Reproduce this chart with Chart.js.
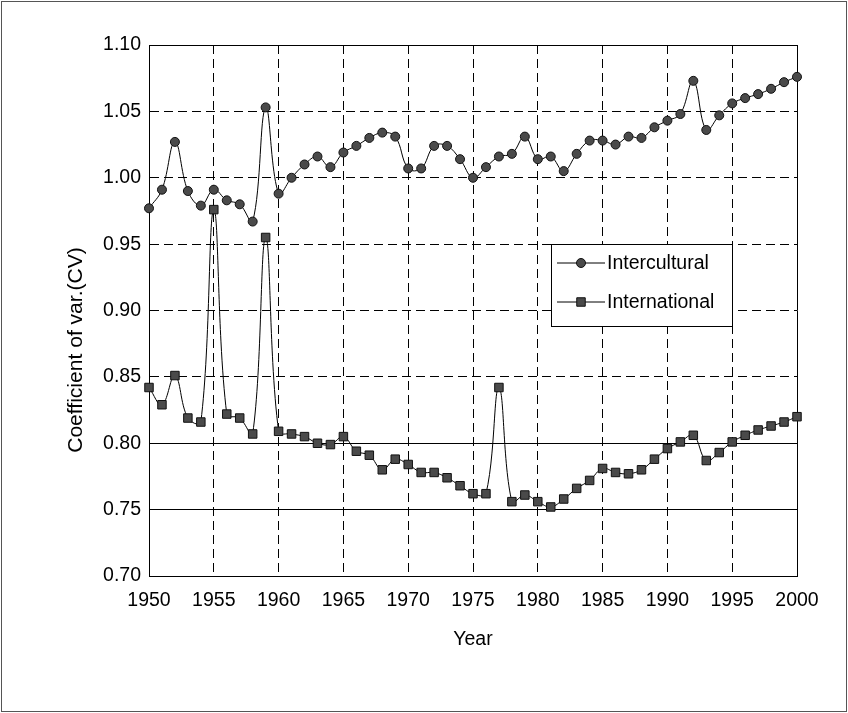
<!DOCTYPE html>
<html>
<head>
<meta charset="utf-8">
<title>Coefficient of variation</title>
<script src="https://cdn.jsdelivr.net/npm/chart.js@4.4.0/dist/chart.umd.min.js"></script>
<style>
    html, body { margin: 0; padding: 0; background: #fff; }
    #wrap { position: relative; width: 848px; height: 713px; }
</style>
</head>
<body>
<div id="wrap"><canvas id="chart"></canvas></div>
<script>
(function() {
    'use strict';

    // Years on the x axis
    var years = [
        1950, 1951, 1952, 1953, 1954, 1955, 1956, 1957, 1958, 1959,
        1960, 1961, 1962, 1963, 1964, 1965, 1966, 1967, 1968, 1969,
        1970, 1971, 1972, 1973, 1974, 1975, 1976, 1977, 1978, 1979,
        1980, 1981, 1982, 1983, 1984, 1985, 1986, 1987, 1988, 1989,
        1990, 1991, 1992, 1993, 1994, 1995, 1996, 1997, 1998, 1999,
        2000
    ];

    // Intercultural CV (circles)
    var intercultural = [
        0.977, 0.991, 1.027, 0.990, 0.979, 0.991, 0.983, 0.980, 0.967, 1.053,
        0.988, 1.000, 1.010, 1.016, 1.008, 1.019, 1.024, 1.030, 1.034, 1.031,
        1.007, 1.007, 1.024, 1.024, 1.014, 1.000, 1.008, 1.016, 1.018, 1.031,
        1.014, 1.016, 1.005, 1.018, 1.028, 1.028, 1.025, 1.031, 1.030, 1.038,
        1.043, 1.048, 1.073, 1.036, 1.047, 1.056, 1.060, 1.063, 1.067, 1.072,
        1.076
    ];

    // International CV (squares)
    var international = [
        0.842, 0.829, 0.851, 0.819, 0.816, 0.976, 0.822, 0.819, 0.807, 0.955,
        0.809, 0.807, 0.805, 0.800, 0.799, 0.805, 0.794, 0.791, 0.780, 0.788,
        0.784, 0.778, 0.778, 0.774, 0.768, 0.762, 0.762, 0.842, 0.756, 0.761,
        0.756, 0.752, 0.758, 0.766, 0.772, 0.781, 0.778, 0.777, 0.780, 0.788,
        0.796, 0.801, 0.806, 0.787, 0.793, 0.801, 0.806, 0.810, 0.813, 0.816,
        0.820
    ];

    var seriesNames = ['Intercultural', 'International'];
    var yTitle = 'Coefficient of var.(CV)';
    var xTitle = 'Year';

    // Axis settings
    var xTicks = { min: 1950, max: 2000, step: 5 };
    var yTicks = { min: 0.70, max: 1.10, step: 0.05 };
    var solidYLines = [0.70, 0.75, 0.80, 1.10];
    var solidXLines = [1950, 2000];

    var FONT = '"Liberation Sans", Arial, Helvetica, sans-serif';
    var FONT_SIZE = 19.5;

    function toPoints(values) {
        return values.map(function(v, i) {
            return { x: years[i], y: v };
        });
    }

    function isOneOf(value, list) {
        return list.some(function(v) { return Math.abs(v - value) < 1e-6; });
    }

    // Dashed grid, except where the figure has solid lines
    function gridDash(list) {
        return function(ctx) {
            if (!ctx.tick) {
                return [];
            }
            return isOneOf(ctx.tick.value, list) ? [] : [9, 5];
        };
    }

    // Outer frame of the figure
    var framePlugin = {
        id: 'frame',
        afterDraw: function(chart) {
            var ctx = chart.ctx;
            ctx.save();
            ctx.strokeStyle = '#555';
            ctx.lineWidth = 1;
            ctx.strokeRect(1.5, 1.5, chart.width - 3, chart.height - 3);
            ctx.restore();
        }
    };

    // Rotated y title, sitting a bit below the middle like in the figure
    var yTitlePlugin = {
        id: 'yTitle',
        afterDraw: function(chart) {
            var ctx = chart.ctx;
            ctx.save();
            ctx.translate(77, 350);
            ctx.rotate(-Math.PI / 2);
            ctx.scale(1.08, 1);
            ctx.fillStyle = '#000';
            ctx.font = FONT_SIZE + 'px ' + FONT;
            ctx.textAlign = 'center';
            ctx.textBaseline = 'middle';
            ctx.fillText(yTitle, 0, 0);
            ctx.restore();
        }
    };

    // Boxed legend inside the plot
    var boxLegendPlugin = {
        id: 'boxLegend',
        afterDatasetsDraw: function(chart) {
            var ctx = chart.ctx;
            var box = { x: 551.5, y: 244.5, w: 181, h: 82 };

            ctx.save();
            ctx.fillStyle = '#fff';
            ctx.fillRect(box.x, box.y, box.w, box.h);
            ctx.strokeStyle = '#000';
            ctx.lineWidth = 1;
            ctx.strokeRect(box.x, box.y, box.w, box.h);

            chart.data.datasets.forEach(function(ds, i) {
                var y = 263 + i * 39;

                ctx.beginPath();
                ctx.strokeStyle = '#000';
                ctx.lineWidth = 1;
                ctx.moveTo(557, y);
                ctx.lineTo(605, y);
                ctx.stroke();

                ctx.fillStyle = ds.pointBackgroundColor;
                ctx.strokeStyle = ds.pointBorderColor;
                Chart.helpers.drawPoint(ctx, {
                    pointStyle: ds.pointStyle,
                    radius: ds.pointRadius,
                    borderWidth: ds.pointBorderWidth,
                    rotation: 0
                }, 581, y);

                ctx.fillStyle = '#000';
                ctx.font = FONT_SIZE + 'px ' + FONT;
                ctx.textAlign = 'left';
                ctx.textBaseline = 'middle';
                ctx.fillText(ds.label, 607, y + 1);
            });
            ctx.restore();
        }
    };

    var datasets = [
        {
            label: seriesNames[0],
            data: toPoints(intercultural),
            borderColor: '#000',
            borderWidth: 1,
            tension: 0.4,
            pointStyle: 'circle',
            pointRadius: 4.5,
            pointBackgroundColor: '#4a4a4a',
            pointBorderColor: '#111',
            pointBorderWidth: 1,
            clip: false
        },
        {
            label: seriesNames[1],
            data: toPoints(international),
            borderColor: '#000',
            borderWidth: 1,
            tension: 0.4,
            pointStyle: 'rect',
            pointRadius: 6,
            pointBackgroundColor: '#4a4a4a',
            pointBorderColor: '#111',
            pointBorderWidth: 1,
            clip: false
        }
    ];

    new Chart(document.getElementById('chart'), {
        type: 'line',
        data: { datasets: datasets },
        plugins: [framePlugin, yTitlePlugin, boxLegendPlugin],
        options: {
            responsive: true,
            maintainAspectRatio: false,
            animation: false,
            layout: {
                padding: { top: 45, right: 51, bottom: 37, left: 0 }
            },
            plugins: {
                legend: { display: false },
                tooltip: { enabled: false }
            },
            scales: {
                x: {
                    type: 'linear',
                    min: xTicks.min,
                    max: xTicks.max,
                    afterFit: function(scale) { scale.height = 100; },
                    grid: { color: '#000', lineWidth: 1, drawTicks: false },
                    border: { display: true, color: '#000', width: 1, dash: gridDash(solidXLines) },
                    ticks: {
                        stepSize: xTicks.step,
                        padding: 13,
                        color: '#000',
                        font: { family: FONT, size: FONT_SIZE },
                        maxRotation: 0,
                        callback: function(value) { return String(value); }
                    },
                    title: {
                        display: true,
                        text: xTitle,
                        color: '#000',
                        font: { family: FONT, size: FONT_SIZE },
                        padding: { top: 0, bottom: 25 }
                    }
                },
                y: {
                    type: 'linear',
                    min: yTicks.min,
                    max: yTicks.max,
                    afterFit: function(scale) { scale.width = 149; },
                    grid: { color: '#000', lineWidth: 1, drawTicks: false },
                    border: { display: true, color: '#000', width: 1, dash: gridDash(solidYLines) },
                    ticks: {
                        stepSize: yTicks.step,
                        padding: 8,
                        color: '#000',
                        font: { family: FONT, size: FONT_SIZE },
                        callback: function(value) { return value.toFixed(2); }
                    },
                    title: { display: false }
                }
            }
        }
    });
})();
</script>
</body>
</html>
